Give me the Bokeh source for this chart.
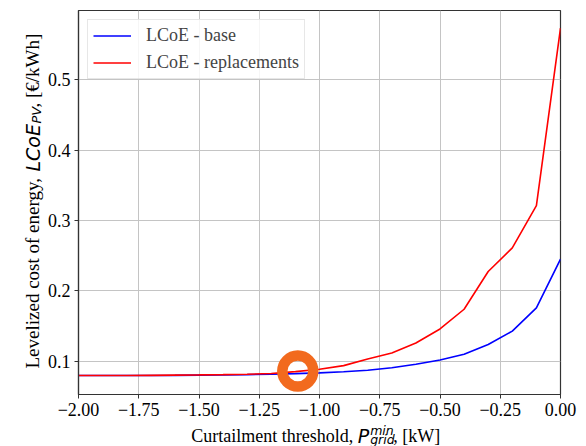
import math
from bokeh.plotting import figure
from bokeh.layouts import row, column
from bokeh.models import Range1d, FixedTicker, Label, Legend, LegendItem, ColumnDataSource
from bokeh.embed import file_html
from bokeh.resources import INLINE

# ---- data ----
threshold_kw = [-2.0, -1.9, -1.8, -1.7, -1.6, -1.5, -1.4, -1.3, -1.2, -1.1, -1.0,
                -0.9, -0.8, -0.7, -0.6, -0.5, -0.4, -0.3, -0.2, -0.1, 0.0]
lcoe_base = [0.0800, 0.0800, 0.0800, 0.0800, 0.0802, 0.0805, 0.0808, 0.0812, 0.0818, 0.0826, 0.0837,
             0.0852, 0.0875, 0.0910, 0.0960, 0.1020, 0.1100, 0.1240, 0.1430, 0.1760, 0.2450]
lcoe_repl = [0.0800, 0.0800, 0.0800, 0.0802, 0.0805, 0.0808, 0.0812, 0.0817, 0.0828, 0.0855, 0.0888,
             0.0940, 0.1035, 0.1120, 0.1260, 0.1460, 0.1740, 0.2275, 0.2610, 0.3210, 0.5730]
highlight_x = [-1.09]
highlight_y = [0.0862]

x_ticks = [-2.0, -1.75, -1.5, -1.25, -1.0, -0.75, -0.5, -0.25, 0.0]
x_tick_labels = ["\u22122.00", "\u22121.75", "\u22121.50", "\u22121.25", "\u22121.00",
                 "\u22120.75", "\u22120.50", "\u22120.25", "0.00"]
y_ticks = [0.1, 0.2, 0.3, 0.4, 0.5]
y_tick_labels = ["0.1", "0.2", "0.3", "0.4", "0.5"]
series_names = ["LCoE - base", "LCoE - replacements"]

SERIF = "Liberation Serif"
MATH = "DejaVu Sans"
W, H = 586, 446
YLAB_W = 44          # strip holding the rotated y label
XLAB_H = 22          # strip holding the x label
MAIN_H = H - XLAB_H
SHIFT = 4            # baseline correction of the rendered labels

# ---- main chart ----
p = figure(width=W - YLAB_W, height=MAIN_H, output_backend="svg", toolbar_location=None,
           x_range=Range1d(-2.0, 0.0), y_range=Range1d(0.053, 0.598),
           min_border_left=77 - YLAB_W, min_border_right=26, min_border_top=10,
           min_border_bottom=MAIN_H - 394)

p.background_fill_color = "white"
p.border_fill_color = "white"
p.outline_line_color = "#333333"
p.outline_line_width = 1.2

for ax in (p.xaxis[0], p.yaxis[0]):
    ax.axis_line_color = "#333333"
    ax.axis_line_width = 1.2
    ax.major_tick_line_color = "#333333"
    ax.major_tick_out = 4
    ax.major_tick_in = 0
    ax.minor_tick_out = 0
    ax.minor_tick_in = 0
    ax.major_label_text_font = SERIF
    ax.major_label_text_font_size = "18px"
    ax.major_label_text_color = "black"
    ax.major_label_standoff = 4

p.xaxis[0].ticker = FixedTicker(ticks=x_ticks)
p.xaxis[0].major_label_overrides = {t: l for t, l in zip(x_ticks, x_tick_labels)}
p.yaxis[0].ticker = FixedTicker(ticks=y_ticks)
p.yaxis[0].major_label_overrides = {t: l for t, l in zip(y_ticks, y_tick_labels)}

p.xgrid.grid_line_color = "#c4c4c4"
p.ygrid.grid_line_color = "#c4c4c4"
p.xgrid.grid_line_width = 1
p.ygrid.grid_line_width = 1

src = ColumnDataSource(dict(x=threshold_kw, base=lcoe_base, repl=lcoe_repl))
r_base = p.line("x", "base", source=src, line_color="#0000ff", line_width=1.6)
r_repl = p.line("x", "repl", source=src, line_color="#ff0000", line_width=1.6)

p.scatter(highlight_x, highlight_y, marker="circle", size=31, fill_color=None,
          line_color="#f26a1e", line_width=10.5)

legend = Legend(items=[LegendItem(label=series_names[0], renderers=[r_base]),
                       LegendItem(label=series_names[1], renderers=[r_repl])],
                location="top_left", margin=9, padding=5, spacing=6,
                label_text_font=SERIF, label_text_font_size="18px",
                glyph_width=38, glyph_height=21, label_height=21, label_standoff=15,
                border_line_color="#d0d0d0", border_line_width=1,
                background_fill_alpha=0.85)
p.add_layout(legend)


def strip(width, height):
    f = figure(width=width, height=height, output_backend="svg", toolbar_location=None,
               x_range=Range1d(0, width), y_range=Range1d(0, height),
               x_axis_type=None, y_axis_type=None,
               min_border_left=0, min_border_right=0, min_border_top=0, min_border_bottom=0)
    f.grid.visible = False
    f.outline_line_color = None
    f.background_fill_color = "white"
    f.border_fill_color = "white"
    return f


def lab(f, text, x, y, font, size, style="normal", align="left", angle=0.0):
    f.add_layout(Label(x=x, y=y, text=text, text_font=font, text_font_size=size,
                       text_font_style=style, text_align=align,
                       text_baseline="alphabetic", angle=angle, text_color="black"))


# ---- x label strip (data units = pixels; x from the strip's left, y from page bottom) ----
xl = strip(W - YLAB_W, XLAB_H)
lab(xl, "Curtailment threshold,", 353 - YLAB_W, H - 439 + SHIFT, SERIF, "18px", align="right")
lab(xl, "P", 358 - YLAB_W, H - 439 + SHIFT, MATH, "19px", style="italic")
lab(xl, "min", 372 - YLAB_W, H - 434 + SHIFT, MATH, "12.5px", style="italic")
lab(xl, "grid", 372 - YLAB_W, H - 443 + SHIFT, MATH, "12.5px", style="italic")
lab(xl, ", [kW]", 398 - YLAB_W, H - 439 + SHIFT, SERIF, "18px")

# ---- y label strip (rotated text) ----
yl = strip(YLAB_W, H)
A = math.pi / 2
lab(yl, "Levelized cost of energy,", 36 - SHIFT, H - 368, SERIF, "19px", angle=A)
lab(yl, "LCoE", 36 - SHIFT, H - 171, MATH, "19px", style="italic", angle=A)
lab(yl, "PV", 40 - SHIFT, H - 123, MATH, "13px", style="italic", angle=A)
lab(yl, ", [\u20ac/kWh]", 36 - SHIFT, H - 107, SERIF, "19px", angle=A)

layout = row(yl, column(p, xl))
open("out.html", "w").write(file_html(layout, INLINE))
